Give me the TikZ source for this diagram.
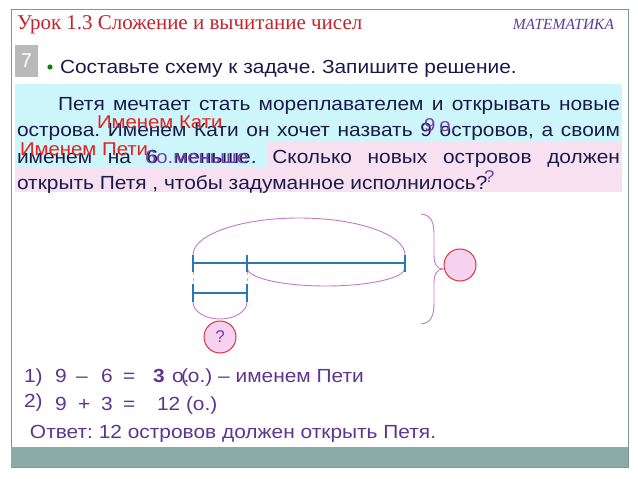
\documentclass[tikz,border=0pt]{standalone}
\usepackage{fontspec}
\setmainfont{Liberation Sans}
\newfontfamily\serifhdr{Liberation Serif}
\newfontfamily\widesans[FakeStretch=1.1]{Liberation Sans}
\frenchspacing
\definecolor{hdrred}{HTML}{C4232B}
\definecolor{mathpurple}{HTML}{5E3C9C}
\definecolor{bodyink}{HTML}{1B1B4B}
\definecolor{cyanbg}{HTML}{CCF6FA}
\definecolor{pinkbg}{HTML}{F7E1F1}
\definecolor{ovred}{HTML}{E32222}
\definecolor{ovpurple}{HTML}{7A3DB0}
\definecolor{solpurple}{HTML}{5E3590}
\definecolor{framegray}{HTML}{7F9797}
\definecolor{bandgray}{HTML}{8BABA9}
\definecolor{segblue}{HTML}{2A78B8}
\definecolor{arcpink}{HTML}{C47AC8}
\definecolor{circfill}{HTML}{F5D3F0}
\definecolor{circdraw}{HTML}{D8343A}
\tikzset{
  txt/.style={inner sep=0pt, outer sep=0pt, anchor=base west},
  body/.style={txt, text=bodyink, font=\widesans\fontsize{19}{22}\selectfont},
  over/.style={txt, font=\widesans\fontsize{18.5}{22}\selectfont},
  sol/.style={txt, text=solpurple, font=\widesans\fontsize{19}{22}\selectfont},
  seg/.style={draw=segblue, line width=2pt},
  arcline/.style={draw=arcpink, line width=0.9pt},
  ball/.style={circle, minimum size=32pt, inner sep=0pt, fill=circfill, draw=circdraw, line width=1pt},
}
\begin{document}
\begin{tikzpicture}[x=1pt,y=-1pt]
\useasboundingbox (0,0) rectangle (638,479);
\fill[white] (0,0) rectangle (638,479);
% frame
\draw[framegray, line width=0.8pt] (11,9) rectangle (628,467);
\fill[bandgray] (11,447) rectangle (628,467);
% header
\node[txt, text=hdrred, font=\serifhdr\fontsize{21}{24}\selectfont] (hdr) at (17,29) {Урок 1.3 Сложение и вычитание чисел};
\node[txt, anchor=base east, text=mathpurple, font=\serifhdr\itshape\fontsize{15.5}{18}\selectfont] (subj) at (614,29) {МАТЕМАТИКА};
% task number
\fill[gray!55] (15,45) rectangle (38,77);
\node[txt, anchor=center, text=white, font=\fontsize{20}{22}\selectfont] (num) at (26.5,61) {7};
\fill[green!55!black] (50,67) circle (2.6pt);
\node[body] (instr) at (60,73) {Составьте схему к задаче. Запишите решение.};
% backgrounds
\fill[cyanbg] (15,84) rectangle (622,142);
\fill[cyanbg] (15,142) rectangle (268,167);
\fill[pinkbg] (268,142) rectangle (622,167);
\fill[pinkbg] (15,167) rectangle (622,192);
% body text
\node[body] (l1) at (58,110) {\makebox[562pt][s]{Петя мечтает стать мореплавателем и открывать новые}};
\node[body] (l2) at (17,136) {\makebox[603pt][s]{острова. Именем Кати он хочет назвать 9 островов, а своим}};
\node[body] (l3) at (17,163) {\makebox[603pt][s]{именем на 6 меньше. Сколько новых островов должен}};
\node[body] (l4) at (17,189) {открыть Петя , чтобы задуманное исполнилось?};
% overlays
\node[over, text=ovred] (ok) at (97,128) {Именем Кати};
\node[over, text=ovred] (op) at (20,155) {Именем Пети};
\node[over, text=ovpurple] (o9) at (424,131) {9\kern4pt о.};
\node[over, text=ovpurple] (o6) at (145,163) {6о.меньше};
\node[over, text=ovpurple, font=\widesans\fontsize{17}{18}\selectfont] (oq) at (484,182) {?};
% scheme
\coordinate (A) at (193,263);
\coordinate (B) at (247,263);
\coordinate (C) at (405,263);
\coordinate (D) at (193,293);
\coordinate (E) at (247,293);
\draw[arcpink!70, dashed, line width=0.7pt] (193,272) -- (193,285);
\draw[arcpink!70, dashed, line width=0.7pt] (247,272) -- (247,285);
\draw[arcline] (193,255) arc[start angle=180, end angle=360, x radius=106, y radius=37];
\draw[arcline] (247,268) arc[start angle=180, end angle=0, x radius=79, y radius=18];
\draw[arcline] (193,302) arc[start angle=180, end angle=0, x radius=27, y radius=17];
\draw[seg] (A) -- (C);
\draw[seg] ([yshift=-9pt]A) -- ([yshift=8pt]A);
\draw[seg] ([yshift=-9pt]B) -- ([yshift=8pt]B);
\draw[seg] ([yshift=-9pt]C) -- ([yshift=8pt]C);
\draw[seg] (D) -- (E);
\draw[seg] ([yshift=-9pt]D) -- ([yshift=9pt]D);
\draw[seg] ([yshift=-9pt]E) -- ([yshift=9pt]E);
% brace
\coordinate (bt) at (421,214);
\coordinate (bm) at (443,269);
\coordinate (bb) at (421,324);
\draw[arcline] (bt) .. controls (431,215) and (434,222) .. (434,234) -- (434,255)
  .. controls (434,264) and (437,269) .. (bm)
  .. controls (437,269) and (434,274) .. (434,283) -- (434,303)
  .. controls (434,316) and (431,323) .. (bb);
\node[ball] (q) at (220,337) {\textcolor{ovpurple}{\fontsize{17}{20}\selectfont ?}};
\node[ball] (res) at (460,265) {};
% solution
\node[sol] (s1n) at (24,382) {1)};
\node[sol] (s1a) at (55,382) {9};
\node[sol] (s1b) at (76,382) {–};
\node[sol] (s1c) at (101,382) {6};
\node[sol] (s1d) at (123,382) {=};
\node[sol, font=\widesans\bfseries\fontsize{19}{22}\selectfont] (s1e) at (153,382) {3};
\node[sol] (s1o) at (172,382) {о.};
\node[sol] (s1f) at (181,382) {(о.) – именем Пети};
\node[sol] (s2n) at (24,407) {2)};
\node[sol] (s2a) at (55,410) {9};
\node[sol] (s2b) at (78,410) {+};
\node[sol] (s2c) at (101,410) {3};
\node[sol] (s2d) at (123,410) {=};
\node[sol] (s2e) at (157,410) {12 (о.)};
\node[sol] (ans) at (30,438) {Ответ: 12 островов должен открыть Петя.};
\end{tikzpicture}
\end{document}
